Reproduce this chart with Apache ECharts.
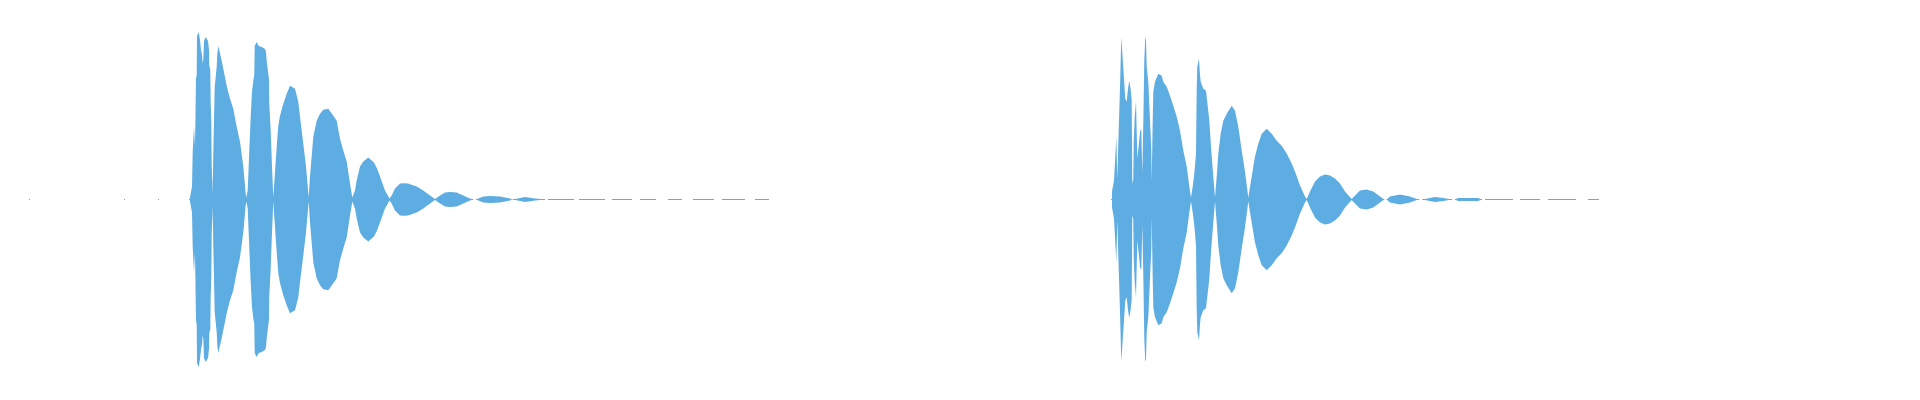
<!DOCTYPE html>
<html>
<head>
<meta charset="utf-8">
<script src="https://cdn.jsdelivr.net/npm/echarts@6/dist/echarts.min.js"></script>
<style>
  html, body { margin: 0; padding: 0; background: #fff; }
  #wave { width: 1920px; height: 400px; }
</style>
</head>
<body>
<div id="wave"></div>
<script>
// time in ms, amplitude in % of full scale (envelope, drawn mirrored)
var t1 = [190, 191.3, 192, 192.7, 193.7, 194, 194.7, 195, 195.7, 196, 196.7, 197, 198, 198.7, 199.3, 200, 201, 202, 202.7, 203.3,
  204, 205.7, 206.7, 208, 209, 209.3, 210.3, 210.7, 211.3, 211.7, 212.3, 212.7, 213.3, 214, 214.7, 216, 216.7, 217.3, 218.3, 220,
  221.7, 223.3, 226.7, 230, 233.3, 236.7, 240, 243.3, 245.7, 246.3, 247.7, 249.3, 250.7, 252, 253.3, 254.3, 254.7, 256.7, 258.7, 261.7,
  265, 266, 266.7, 268.3, 269, 269.3, 270.7, 272, 273.3, 274.7, 276.7, 278.3, 280, 283.3, 286.7, 290, 291.7, 295, 298.3, 300,
  303.3, 306, 308.7, 310, 313.3, 316.7, 320, 323.3, 328.3, 333.3, 336.7, 340, 343.3, 346.7, 350, 352.3, 355, 356.7, 360, 363.3,
  368.3, 370, 374, 377, 380, 385, 389.5, 391.7, 395, 400, 404, 408, 416.7, 423.3, 430, 435, 440, 445, 450, 456.7,
  463.3, 470, 473, 476, 483.3, 490, 500, 510, 511, 513, 525, 535, 545];
var amp1 = [1, 1.5, 6.5, 24, 24, 36.5, 36.5, 26.5, 27.5, 60.5, 62.5, 82, 83, 84, 84, 80, 75, 72.5, 68, 70,
  79.5, 81.5, 81.5, 79.5, 75, 67, 65, 48, 40, 16.5, 10, 3, 23, 40, 56.5, 63, 66.5, 73, 77, 76.5,
  69.5, 65.5, 57, 50.5, 45.5, 36.5, 29, 16.5, 3, 1, 4.5, 24.5, 41.5, 54, 59.5, 62.5, 77, 79, 77, 76.5,
  75.5, 74, 69.5, 63, 60, 48, 34.5, 16.5, 1, 11.5, 26.5, 37, 42, 48, 53, 57, 58, 55.5, 49, 41.5,
  28, 16.5, 1, 11.5, 31.5, 39.5, 43, 45, 45.5, 42, 39.5, 30.5, 24.5, 19, 8, 1, 4.5, 9.5, 16.5, 19,
  21, 20.5, 18.5, 15.5, 11.5, 4.5, 0.5, 2, 5.5, 8, 8.2, 8, 6.5, 4.5, 2, 0.3, 2, 3.5, 3.7, 3.5,
  2, 0.5, 0, 0, 1.5, 1.8, 1.5, 0.5, 0, 0, 1.2, 0.5, 0];

var t2 = [1112, 1113.3, 1114, 1115, 1115.3, 1116, 1116.3, 1116.7, 1117.3, 1119.3, 1120, 1120.7, 1121.3, 1123.3, 1124, 1125.3, 1126.7, 1128, 1129.3, 1130.7,
  1131.7, 1132.3, 1133.3, 1133.7, 1134.7, 1136, 1136.7, 1137.3, 1138.7, 1140, 1141.3, 1142, 1142.3, 1143, 1143.3, 1144.3, 1145.3, 1146, 1146.7, 1148.3,
  1150, 1151.3, 1151.7, 1152.3, 1152.7, 1153.3, 1155, 1156.7, 1158.3, 1160, 1161.7, 1163.3, 1166.7, 1170, 1173.3, 1176.7, 1180, 1183.3, 1186.7, 1189.3,
  1191, 1192.7, 1194.3, 1196, 1196.7, 1197.3, 1199, 1200, 1200.7, 1203.3, 1206, 1208, 1208.7, 1209.3, 1211, 1213.3, 1215, 1216.7, 1218.3, 1220.7,
  1223.3, 1226.7, 1231.7, 1235, 1238.3, 1241.7, 1245, 1248.3, 1251.7, 1255, 1258.3, 1261.7, 1266.7, 1271.7, 1276.7, 1281.7, 1286.7, 1291.7, 1295, 1300,
  1305, 1306.7, 1310, 1315, 1320, 1325, 1330, 1335, 1340, 1345, 1351.7, 1355, 1360, 1366.7, 1373.3, 1380, 1384.3, 1386.7, 1390, 1400,
  1410, 1418.3, 1422.3, 1435, 1443.3, 1452, 1455, 1458, 1468, 1478, 1482];
var amp2 = [4, 5, 9.5, 10, 21.5, 22.5, 31.5, 31.5, 10.5, 11, 56.5, 57.5, 81.5, 82.5, 60.5, 50.5, 49, 55.5, 59.5, 55,
  50, 8, 10, 29, 41.5, 49, 49, 20.5, 27, 34, 35.5, 35, 13, 14, 38, 70, 81.5, 80, 66.5, 59,
  39.5, 25, 9, 10, 39.5, 54, 59, 60, 63, 64, 62, 59, 56.5, 52, 47, 41.5, 34.5, 24.5, 16.5, 6.5,
  1, 6.5, 13, 23, 55, 66.5, 70.5, 62.5, 59, 55.5, 54.5, 54, 42.5, 39.5, 26.5, 11.5, 1, 11.5, 23, 33,
  39.5, 43, 47, 44.5, 36.5, 24.5, 14, 1, 11.5, 21.5, 28, 33, 35.5, 33, 29.5, 27, 23, 18, 14, 7,
  1.5, 0.3, 4, 9, 11.5, 12.5, 12, 10.5, 8, 4, 0.3, 2, 4.5, 5, 4, 1.5, 0, 0, 1.5, 2.5,
  1.5, 0, 0, 1.2, 0.8, 0, 0, 0.7, 0.7, 0.7, 0];

// stretches where the trace sits on the zero line (the near-silent ones show as dashes)
var dashFrom = [29, 124, 158, 189, 476, 513, 548, 579, 612, 640, 668, 693, 722, 755,
  1111, 1386.7, 1422.3, 1455, 1485, 1520, 1548, 1588];
var dashTo = [30, 125, 159, 473, 510.7, 545, 574, 605, 632, 656, 682, 714, 745, 769,
  1384.3, 1419.3, 1452, 1482, 1513, 1540, 1576, 1599];

var blue = '#5DADE2';

function envelope(ts, amps, sign) {
  return ts.map(function(t, i) { return [t, sign * amps[i]]; });
}

var dashData = [];
dashFrom.forEach(function(a, i) {
  dashData.push([a, 0], [dashTo[i], 0], [dashTo[i], null]);
});

function area(data) {
  return {
    type: 'line',
    data: data,
    symbol: 'none',
    silent: true,
    lineStyle: { width: 0 },
    areaStyle: { color: blue, opacity: 1 }
  };
}

var chart = echarts.init(document.getElementById('wave'));
chart.setOption({
  animation: false,
  grid: { left: 0, right: 0, top: 0, height: 399 },
  xAxis: { type: 'value', min: 0, max: 1920, show: false },
  yAxis: { type: 'value', min: -100, max: 100, show: false },
  series: [
    area(envelope(t1, amp1, 1)),
    area(envelope(t1, amp1, -1)),
    area(envelope(t2, amp2, 1)),
    area(envelope(t2, amp2, -1)),
    {
      type: 'line',
      data: dashData,
      symbol: 'none',
      silent: true,
      connectNulls: false,
      lineStyle: { color: blue, width: 1 }
    }
  ]
});
window.addEventListener('resize', function() { chart.resize(); });
</script>
</body>
</html>
